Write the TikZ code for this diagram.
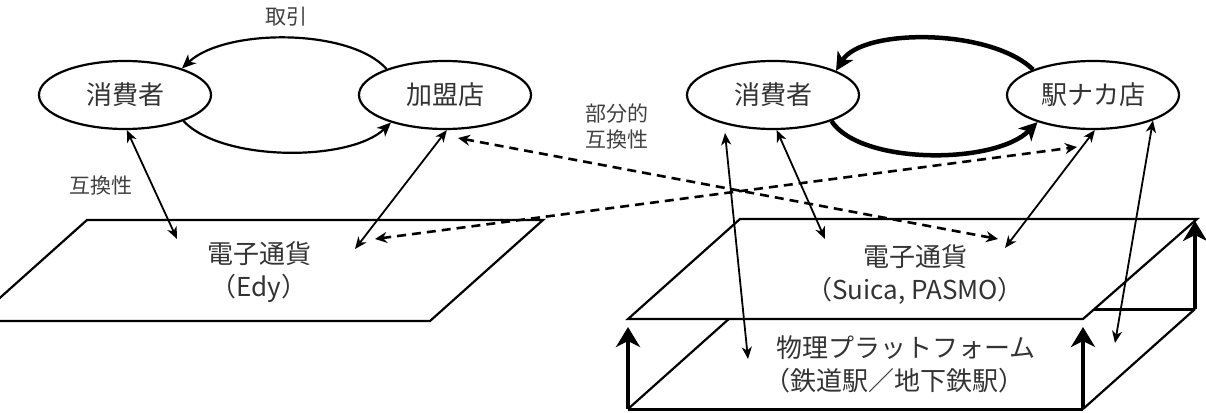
\documentclass[tikz,border=0pt]{standalone}
\usepackage{fontspec}
\setmainfont{Noto Sans CJK JP}
\usetikzlibrary{shapes.geometric,arrows.meta}
\begin{document}
\begin{tikzpicture}[x=1pt,y=-1pt,
  ell/.style={draw, ellipse, line width=2.2pt, minimum width=172pt, minimum height=68pt, inner sep=0pt, font=\fontsize{26}{30}\selectfont, text=black!80},
  lbl/.style={font=\fontsize{21}{26}\selectfont, text=black!75, align=center},
  big/.style={font=\fontsize{26}{33}\selectfont, text=black!80, align=center},
  face/.style={line width=2.2pt, line join=miter},
  dbl/.style={line width=1.8pt, {Stealth[length=12pt,width=10pt,inset=3.5pt]}-{Stealth[length=12pt,width=10pt,inset=3.5pt]}},
  dsh/.style={line width=2.6pt, dash pattern=on 9pt off 6pt, {Stealth[length=12pt,width=11pt,inset=4pt]}-{Stealth[length=12pt,width=11pt,inset=4pt]}},
  arcA/.style={line width=2.2pt, -{Stealth[length=14pt,width=12pt,inset=4pt]}},
  arcB/.style={line width=4.5pt, -{Stealth[length=18pt,width=18pt,inset=5pt]}},
  uparr/.style={line width=3.5pt, -{Stealth[length=20pt,width=24pt,inset=6pt]}}
]
\useasboundingbox (0,0) rectangle (1206,412);
\clip (0,0) rectangle (1206,412);

% ellipses
\node[ell] (c1) at (125,95) {消費者};
\node[ell] (m1) at (445,95) {加盟店};
\node[ell] (c2) at (773,95) {消費者};
\node[ell] (m2) at (1093,95) {駅ナカ店};

% Edy plane
\draw[face] (87,220) -- (543,220) -- (430,321) -- (-26,321) -- cycle;
\node[big] (edy) at (259,272) {電子通貨\\（Edy）};

% box
\draw[face] (740,309) -- (628,409);
\draw[face, line width=3pt] (740,309) -- (1195,309);
\draw[face] (1083,409) -- (1195,309);
\draw[face, line width=3pt] (628,409) -- (1083,409);
\draw[face, fill=white] (628,319) -- (1083,319) -- (1197,219) -- (740,219) -- cycle;
\draw[uparr] (628,409) -- (628,327);
\draw[uparr] (1083,409) -- (1083,327);
\draw[uparr] (1195,309) -- (1195,221);

\node[big] (suica) at (915,274) {電子通貨\\（Suica, PASMO）};
\node[big, align=left, anchor=west, inner sep=0pt] (plat) at (776,364) {物理プラットフォーム\\\kern-0.45em（鉄道駅／地下鉄駅）};

% labels
\node[lbl] (t1) at (286,17) {取引};
\node[lbl] (t2) at (101,186) {互換性};
\node[lbl] (t3) at (617,126) {部分的\\互換性};

% arcs
\draw[arcA] (m1.156) .. controls (350,28) and (225,28) .. (c1.25);
\draw[arcA] (c1.-24) .. controls (222,162) and (350,162) .. (m1.-153);
\draw[arcB] (m2.157) .. controls (990,28) and (862,28) .. (c2.21);
\draw[arcB] (c2.-24) .. controls (860,165) and (995,165) .. (m2.-154);

% free ends
\coordinate (e1) at (177,239);
\coordinate (e2) at (355,249);
\coordinate (e3) at (375,239);
\coordinate (s1) at (825,239);
\coordinate (s2) at (1005,248);
\coordinate (s3) at (998,239);
\coordinate (p1) at (748,359);
\coordinate (p2) at (1115,343);
\coordinate (m1d) at (458,138);
\coordinate (m2d) at (1077,147);
\coordinate (c2p) at (725,133);

% connectors
\draw[dbl] (c1.-87) -- (e1);
\draw[dbl] (m1.-87) -- (e2);
\draw[dsh] (m1d) -- (s3);
\draw[dsh] (e3) -- (m2d);
\draw[dbl] (c2p) -- (p1);
\draw[dbl] (c2.-84) -- (s1);
\draw[dbl] (m2.-87) -- (s2);
\draw[dbl] (m2.-23) -- (p2);
\end{tikzpicture}
\end{document}
